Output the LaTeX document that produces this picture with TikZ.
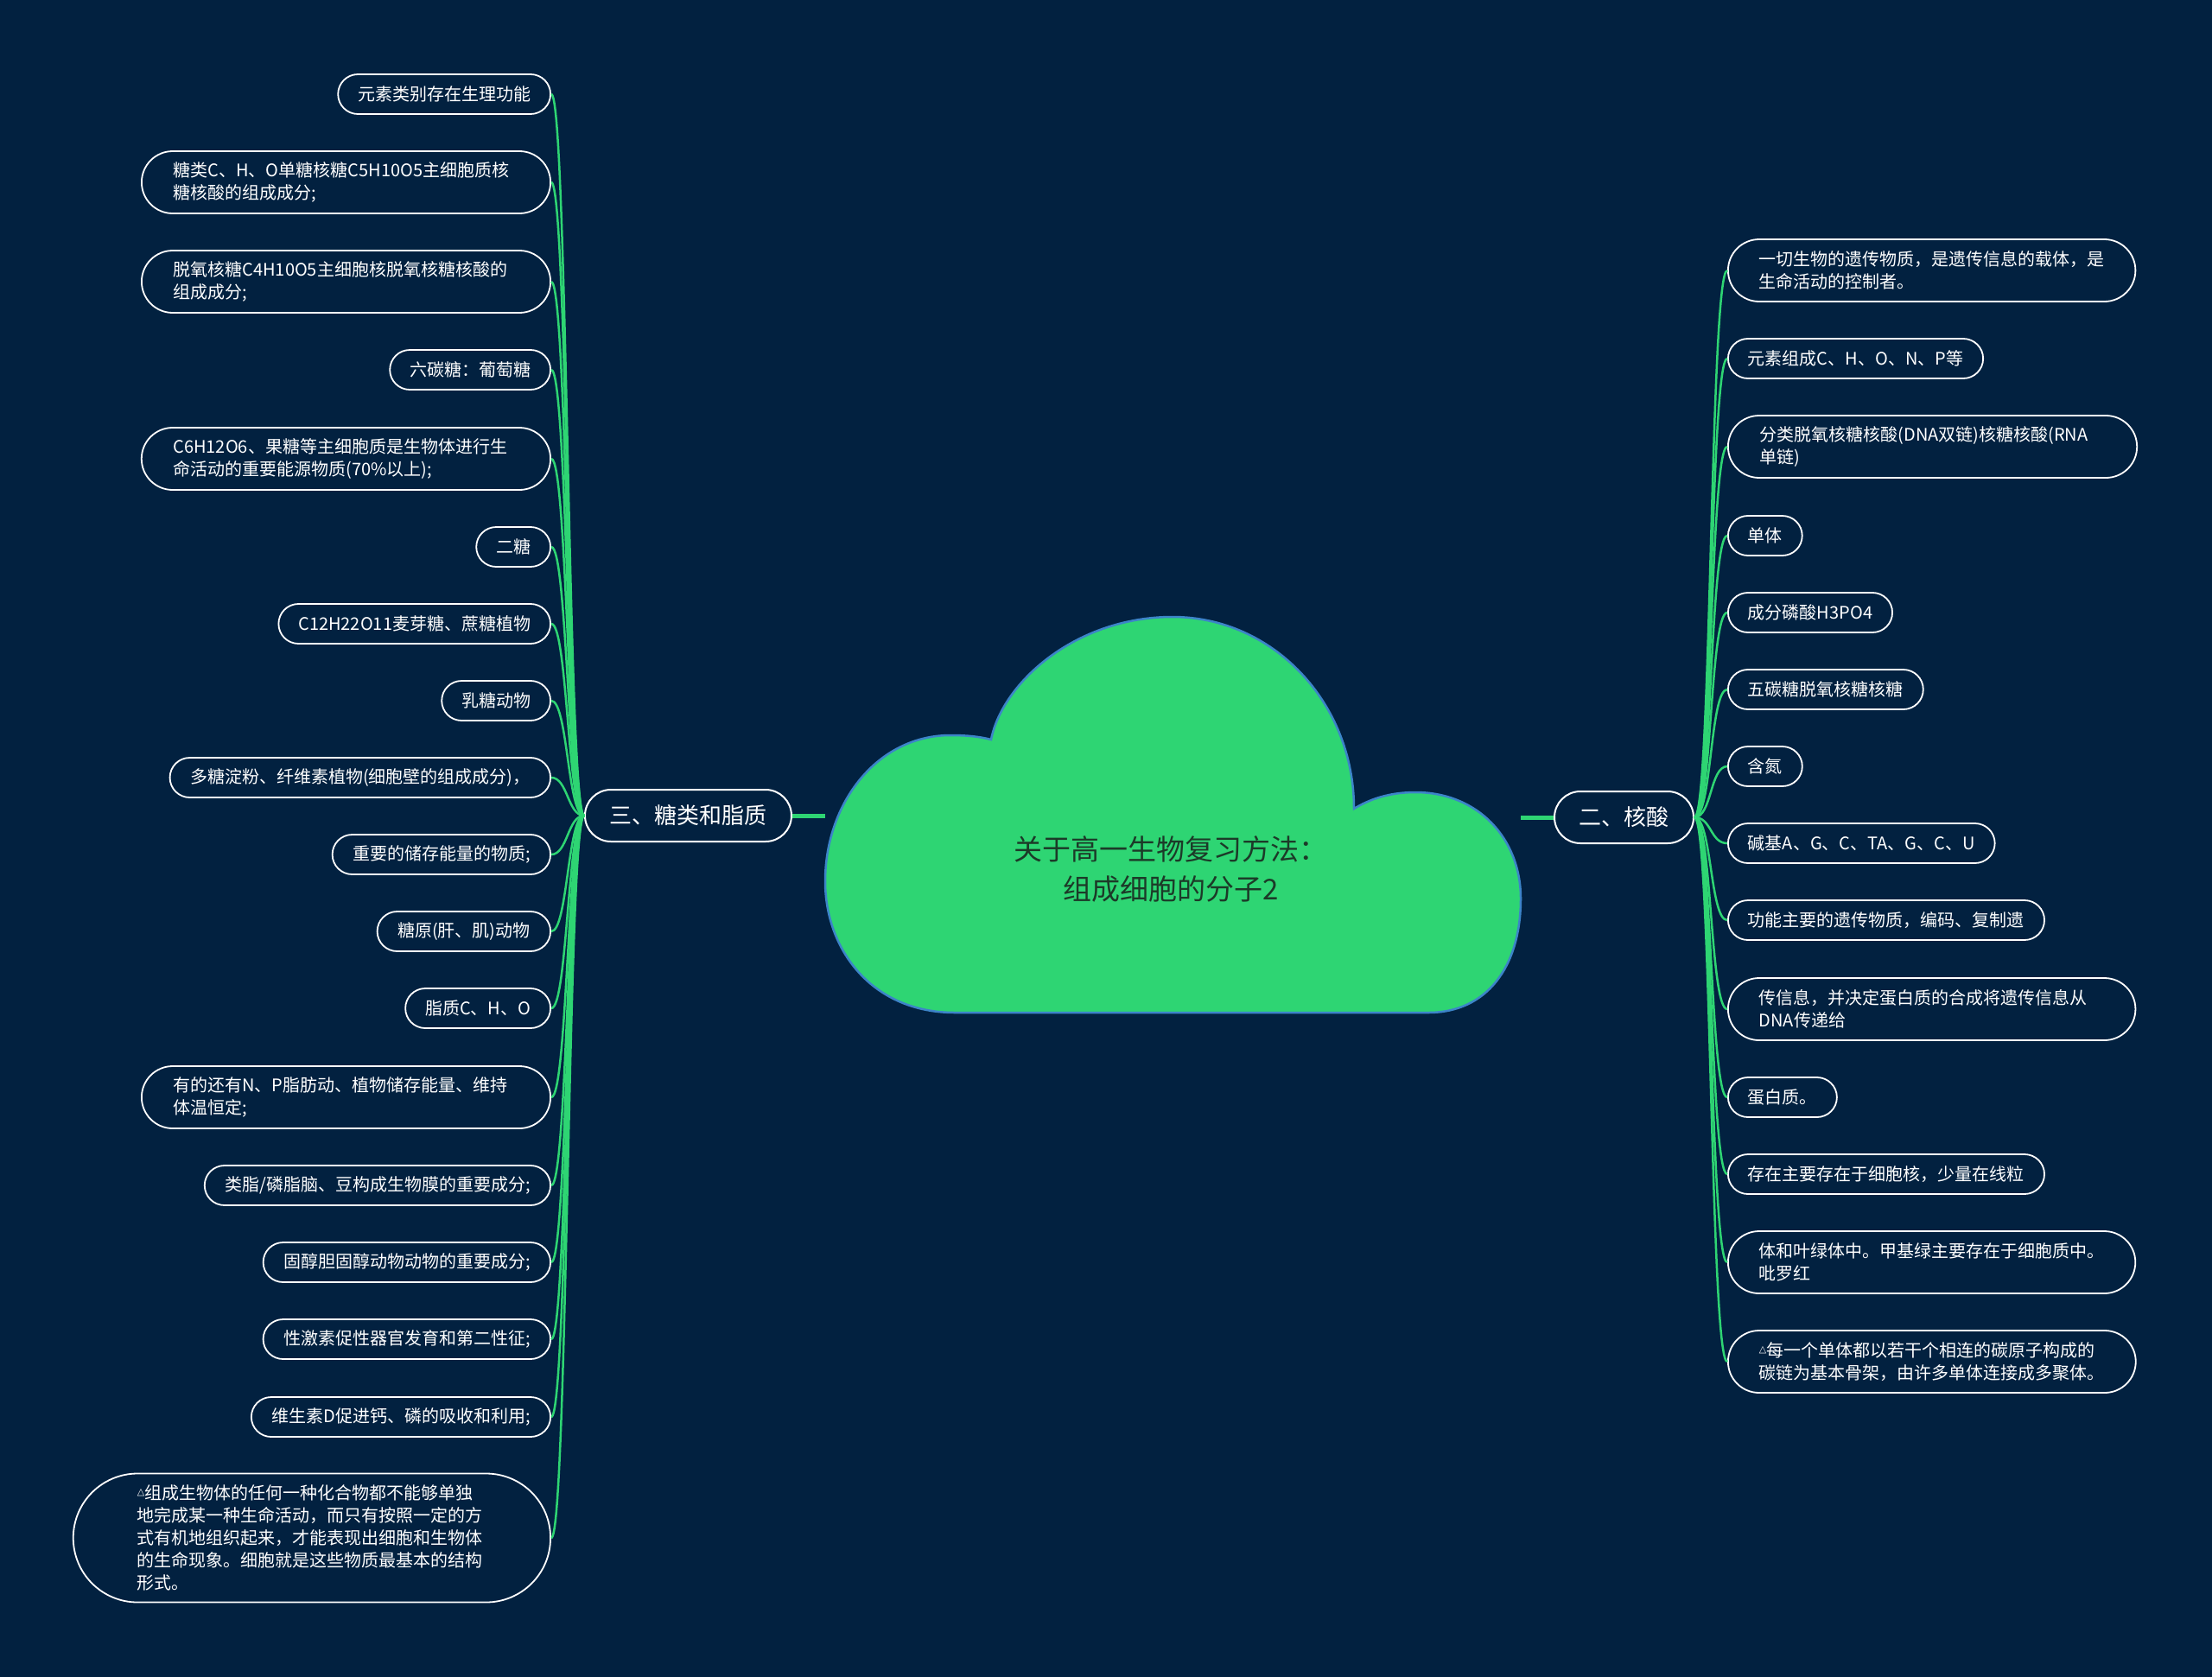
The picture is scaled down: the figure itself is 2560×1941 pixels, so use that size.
\documentclass[tikz,border=0pt]{standalone}
\usepackage{fontspec}
\setmainfont{Noto Sans CJK SC}
\newfontfamily\dejavu{DejaVu Sans}
\usetikzlibrary{shapes.misc}
\definecolor{bg}{HTML}{022140}
\definecolor{leafgreen}{HTML}{2ED573}
\definecolor{cloudedge}{HTML}{3C84C8}
\definecolor{titletext}{HTML}{1C3A28}
\newcommand{\smalltri}{\raisebox{5pt}{\dejavu\fontsize{11}{11}\selectfont △}}
\begin{document}
\begin{tikzpicture}[x=1pt,y=-1pt,
 leaf/.style={rounded rectangle, draw=white, line width=1.8pt, fill=bg, text=white, font=\fontsize{20}{26}\selectfont, inner xsep=21pt, inner ysep=2pt, minimum height=46pt},
 leafL/.style={leaf, anchor=east},
 leafR/.style={leaf, anchor=west},
 two/.style={text width=400pt, align=left, minimum height=72pt, inner xsep=28pt},
 branch/.style={rounded rectangle, draw=white, line width=2pt, fill=bg, text=white, font=\fontsize{26}{30}\selectfont, inner xsep=26pt, minimum height=60pt},
 conn/.style={draw=leafgreen, line width=2.5pt},
 trunk/.style={draw=leafgreen, line width=5pt}]
\useasboundingbox (0,0) rectangle (2560,1941);
\fill[bg] (0,0) rectangle (2560,1941);

% cloud
\draw[fill=leafgreen, draw=cloudedge, line width=2.5pt]
 (1105,1172) -- (1653,1172)
 .. controls (1720,1172) and (1760,1120) .. (1760,1040)
 .. controls (1760,970) and (1710,917) .. (1638,917)
 .. controls (1608,917) and (1585,925) .. (1567,936)
 .. controls (1567,813) and (1473,714) .. (1357,714)
 .. controls (1245,714) and (1160,790) .. (1147,856)
 .. controls (1132,852) and (1115,851) .. (1100,851)
 .. controls (1015,851) and (955,930) .. (955,1020)
 .. controls (955,1100) and (1010,1172) .. (1105,1172) -- cycle;
\node[font=\fontsize{33}{46}\selectfont, text=titletext, align=center] (T) at (1355,1006) {关于高一生物复习方法：\\组成细胞的分子2};
\coordinate (cL) at (955,944);
\coordinate (cR) at (1760,946);

% branches
\node[branch, anchor=east] (ML) at (917,944) {三、糖类和脂质};
\node[branch, anchor=west] (MR) at (1798,946) {二、核酸};
\draw[trunk] (ML.east) -- (cL);
\draw[trunk] (cR) -- (MR.west);

% left leaves
\node[leafL] (l1) at (638,109) {元素类别存在生理功能};
\node[leafL,two] (l2) at (638,211) {糖类C、H、O单糖核糖C5H10O5主细胞质核\\糖核酸的组成成分;};
\node[leafL,two] (l3) at (638,326) {脱氧核糖C4H10O5主细胞核脱氧核糖核酸的\\组成成分;};
\node[leafL] (l4) at (638,428) {六碳糖：葡萄糖};
\node[leafL,two] (l5) at (638,531) {C6H12O6、果糖等主细胞质是生物体进行生\\命活动的重要能源物质(70\%以上);};
\node[leafL] (l6) at (638,633) {二糖};
\node[leafL] (l7) at (638,722) {C12H22O11麦芽糖、蔗糖植物};
\node[leafL] (l8) at (638,811) {乳糖动物};
\node[leafL] (l9) at (638,900) {多糖淀粉、纤维素植物(细胞壁的组成成分)，};
\node[leafL] (l10) at (638,989) {重要的储存能量的物质;};
\node[leafL] (l11) at (638,1078) {糖原(肝、肌)动物};
\node[leafL] (l12) at (638,1167) {脂质C、H、O};
\node[leafL,two] (l13) at (638,1270) {有的还有N、P脂肪动、植物储存能量、维持\\体温恒定;};
\node[leafL] (l14) at (638,1372) {类脂/磷脂脑、豆构成生物膜的重要成分;};
\node[leafL] (l15) at (638,1461) {固醇胆固醇动物动物的重要成分;};
\node[leafL] (l16) at (638,1550) {性激素促性器官发育和第二性征;};
\node[leafL] (l17) at (638,1640) {维生素D促进钙、磷的吸收和利用;};
\node[leafL, text width=404pt, align=left, minimum height=149pt, inner xsep=42pt] (l18) at (638,1780) {\smalltri 组成生物体的任何一种化合物都不能够单独\\地完成某一种生命活动，而只有按照一定的方\\式有机地组织起来，才能表现出细胞和生物体\\的生命现象。细胞就是这些物质最基本的结构\\形式。};

% right leaves
\node[leafR,two] (r1) at (1999,313) {一切生物的遗传物质，是遗传信息的载体，是\\生命活动的控制者。};
\node[leafR] (r2) at (1999,415) {元素组成C、H、O、N、P等};
\node[leafR,two] (r3) at (1999,517) {分类脱氧核糖核酸(DNA双链)核糖核酸(RNA\\单链)};
\node[leafR] (r4) at (1999,620) {单体};
\node[leafR] (r5) at (1999,709) {成分磷酸H3PO4};
\node[leafR] (r6) at (1999,798) {五碳糖脱氧核糖核糖};
\node[leafR] (r7) at (1999,887) {含氮};
\node[leafR] (r8) at (1999,976) {碱基A、G、C、TA、G、C、U};
\node[leafR] (r9) at (1999,1065) {功能主要的遗传物质，编码、复制遗};
\node[leafR,two] (r10) at (1999,1168) {传信息，并决定蛋白质的合成将遗传信息从\\DNA传递给};
\node[leafR] (r11) at (1999,1270) {蛋白质。};
\node[leafR] (r12) at (1999,1359) {存在主要存在于细胞核，少量在线粒};
\node[leafR,two] (r13) at (1999,1461) {体和叶绿体中。甲基绿主要存在于细胞质中。\\吡罗红};
\node[leafR,two] (r14) at (1999,1576) {\smalltri 每一个单体都以若干个相连的碳原子构成的\\碳链为基本骨架，由许多单体连接成多聚体。};

% connectors
\foreach \i in {1,...,18}
  \draw[conn] (ML.west) .. controls +(-19,0) and +(19,0) .. (l\i.east);
\foreach \i in {1,...,14}
  \draw[conn] (MR.east) .. controls +(20,0) and +(-20,0) .. (r\i.west);
\end{tikzpicture}
\end{document}
